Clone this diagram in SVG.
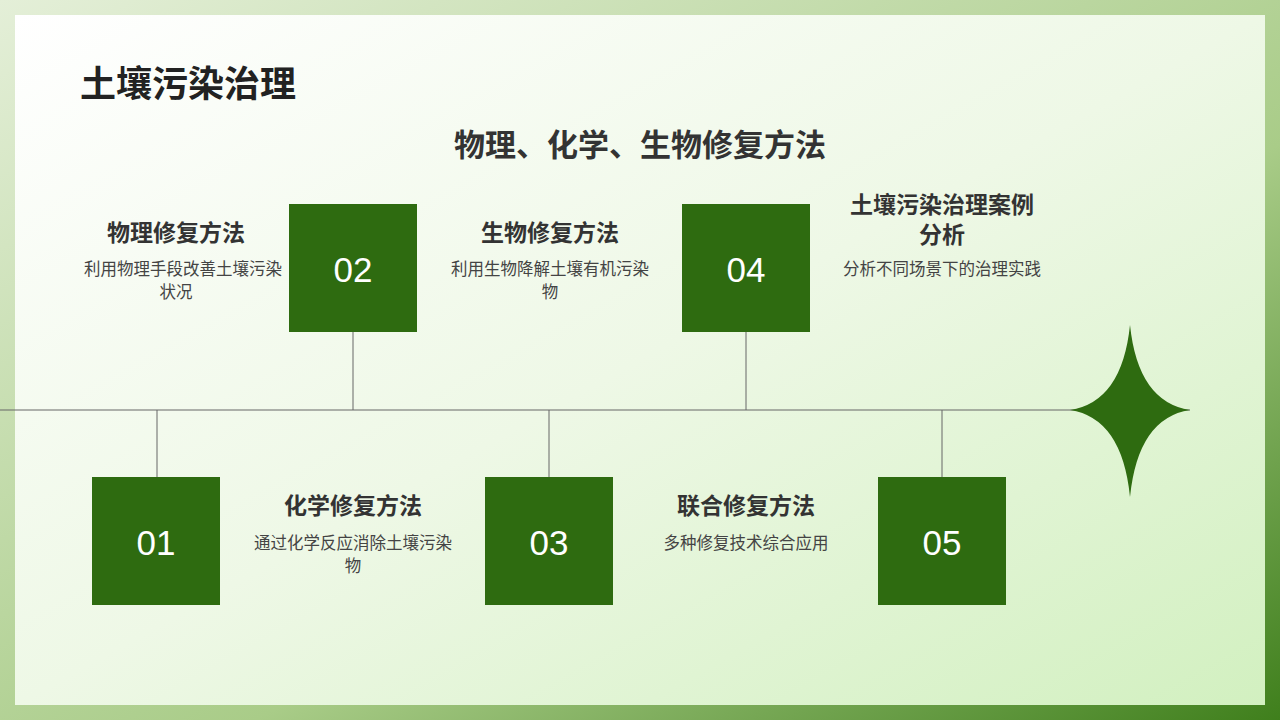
<svg xmlns="http://www.w3.org/2000/svg" width="1280" height="720" viewBox="0 0 1280 720">
<defs>
<linearGradient id="fr" x1="0" y1="0" x2="1" y2="1"><stop offset="0" stop-color="#e4efd8"/><stop offset="0.6" stop-color="#a9cc88"/><stop offset="1" stop-color="#3f7f1c"/></linearGradient>
<linearGradient id="bg" x1="0" y1="0" x2="1" y2="1"><stop offset="0" stop-color="#ffffff"/><stop offset="0.5" stop-color="#eef8e6"/><stop offset="1" stop-color="#d2f0c0"/></linearGradient>
<style>
.b{fill:#2e6b10}
.n{font-family:"Liberation Sans","Noto Sans CJK SC",sans-serif;font-size:35px;fill:#fff;text-anchor:middle}
.h{font-family:"Noto Sans CJK SC",sans-serif;font-size:23px;font-weight:bold;fill:#333;text-anchor:middle}
.d{font-family:"Noto Sans CJK SC",sans-serif;font-size:16.5px;fill:#444;text-anchor:middle}
.l{stroke:#666;stroke-width:1;fill:none}
</style>
</defs>
<rect width="1280" height="720" fill="url(#fr)"/>
<rect x="15" y="15" width="1250" height="690" fill="url(#bg)"/>
<text x="80" y="97" font-family="Noto Sans CJK SC,sans-serif" font-size="36" font-weight="bold" fill="#222">土壤污染治理</text>
<text x="640" y="156" class="h" style="font-size:31px">物理、化学、生物修复方法</text>
<g id="connectors">
<line class="l" x1="0" y1="410" x2="1190" y2="410"/>
<line class="l" x1="353" y1="332" x2="353" y2="410"/>
<line class="l" x1="746" y1="332" x2="746" y2="410"/>
<line class="l" x1="157" y1="410" x2="157" y2="477"/>
<line class="l" x1="549" y1="410" x2="549" y2="477"/>
<line class="l" x1="942" y1="410" x2="942" y2="477"/>
</g>
<g id="star"><path class="b" d="M1130 325 Q1138 402 1190 410 Q1138 418 1130 497 Q1122 418 1070 410 Q1122 402 1130 325Z"/></g>
<g id="n01"><rect class="b" x="92" y="477" width="128" height="128"/><text class="n" x="156" y="555">01</text></g>
<g id="n02"><rect class="b" x="289" y="204" width="128" height="128"/><text class="n" x="353" y="282">02</text></g>
<g id="n03"><rect class="b" x="485" y="477" width="128" height="128"/><text class="n" x="549" y="555">03</text></g>
<g id="n04"><rect class="b" x="682" y="204" width="128" height="128"/><text class="n" x="746" y="282">04</text></g>
<g id="n05"><rect class="b" x="878" y="477" width="128" height="128"/><text class="n" x="942" y="555">05</text></g>
<g id="t1"><text class="h" x="176" y="241">物理修复方法</text><text class="d" x="183" y="275">利用物理手段改善土壤污染</text><text class="d" x="176" y="298">状况</text></g>
<g id="t2"><text class="h" x="550" y="241">生物修复方法</text><text class="d" x="550" y="275">利用生物降解土壤有机污染</text><text class="d" x="550" y="298">物</text></g>
<g id="t3"><text class="h" x="942" y="213">土壤污染治理案例</text><text class="h" x="942" y="243">分析</text><text class="d" x="942" y="275">分析不同场景下的治理实践</text></g>
<g id="t4"><text class="h" x="353" y="514">化学修复方法</text><text class="d" x="353" y="549">通过化学反应消除土壤污染</text><text class="d" x="353" y="572">物</text></g>
<g id="t5"><text class="h" x="746" y="514">联合修复方法</text><text class="d" x="746" y="549">多种修复技术综合应用</text></g>
</svg>
